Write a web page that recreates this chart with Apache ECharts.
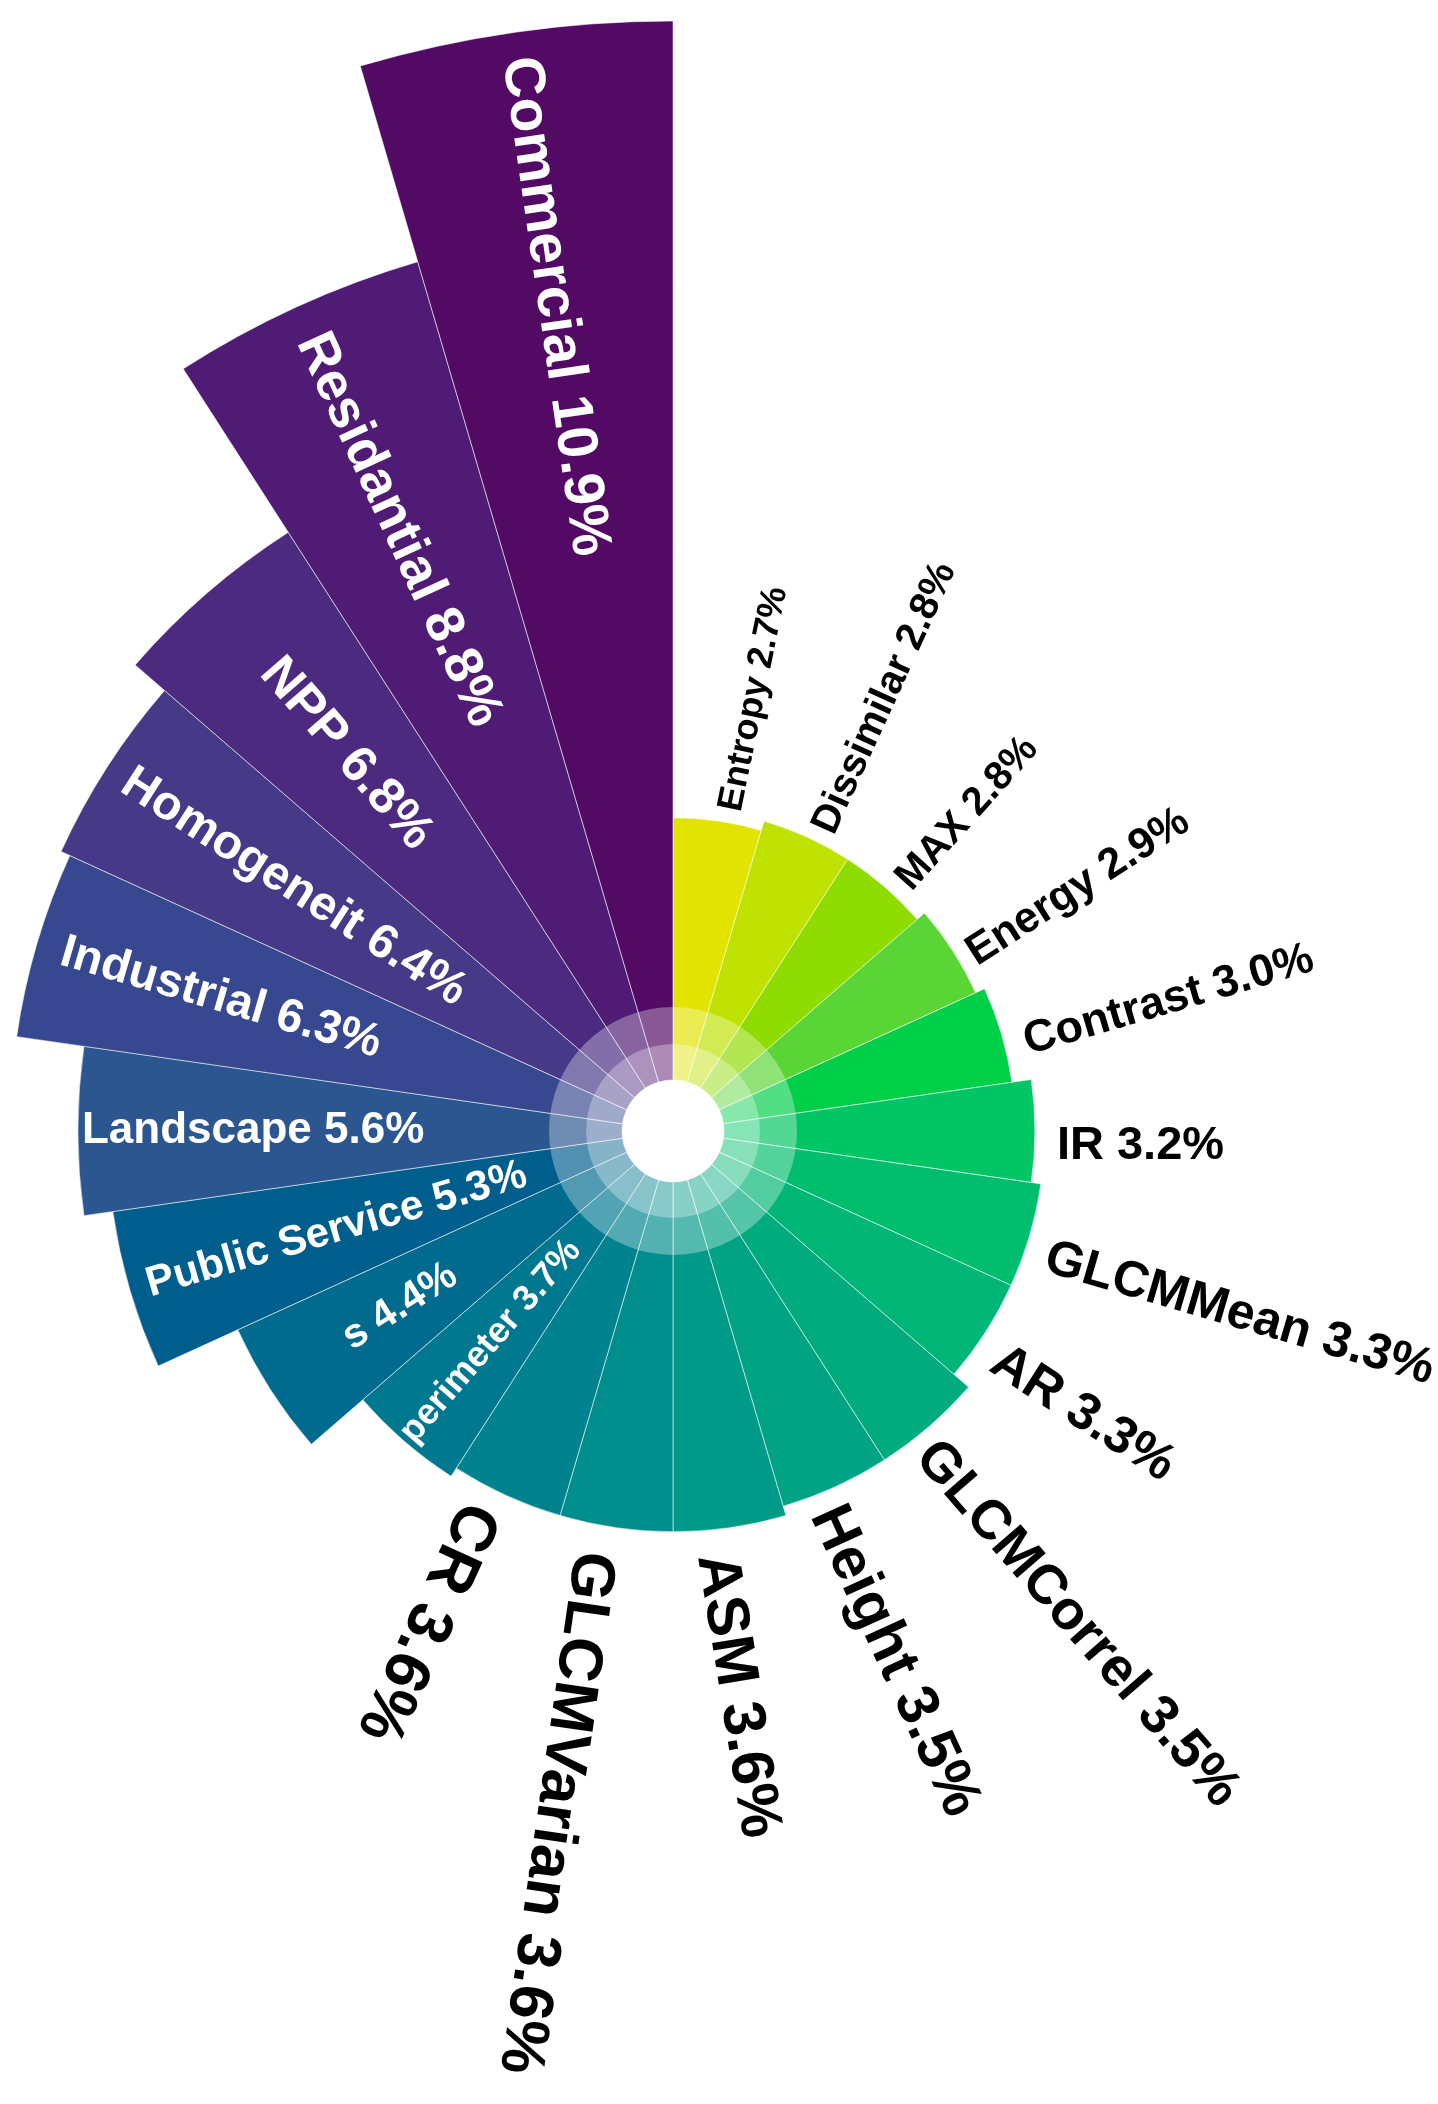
<!DOCTYPE html>
<html>
<head>
<meta charset="utf-8">
<script src="https://cdn.jsdelivr.net/npm/echarts@6/dist/echarts.min.js"></script>
<style>
html,body{margin:0;padding:0;background:#fff;}
#chart{width:1438px;height:2104px;}
</style>
</head>
<body>
<div id="chart"></div>
<script>
// ---- data (clockwise from 12 o'clock) ----
const categories = ['Entropy','Dissimilar','MAX','Energy','Contrast','IR','GLCMMean','AR','GLCMCorrel','Height','ASM','GLCMVarian','CR','perimeter','s','Public Service','Landscape','Industrial','Homogeneit','NPP','Residantial','Commercial'];
const values = [2.7,2.8,2.8,2.9,3.0,3.2,3.3,3.3,3.5,3.5,3.6,3.6,3.6,3.7,4.4,5.3,5.6,6.3,6.4,6.8,8.8,10.9];

// ---- styles ----
const colors = ['#e2e400','#bfe200','#8fdc00','#5ad536','#00cf48','#00c564','#00be6e','#00b676','#00ab7d','#00a383','#009a88','#008e8c','#00838f','#00788f','#006b8e','#005e8c','#2b5690','#384890','#463a88','#4b2a80','#4f1b74','#520a64'];
const labelFont = [36,40,40,43,45,47,50,52,55,59,60,62,64, 36,41,42,44,47,48,51,54,57];
const labelOffset = [12,12,14,12,20,22,22,22,14,16,24,27,20, 4,90,18,4,26,22,95,32,25];
const labelTiltDeg = [3.5,0,1,0,0,0,0,0,0,0,-1,0,0, 0,0,0,0,0,0,0,0,0]; // extra clockwise tilt
const perpShiftFactor = 0.32; // outside labels sit on the clockwise side of the radius
const insideThreshold = 3.7;

const CX = 673, CY = 1131, R0 = 51, R1 = 1110;

const chart = echarts.init(document.getElementById('chart'), null, {renderer:'canvas'});
const option = {
  backgroundColor: '#ffffff',
  animation: false,
  polar: { center: [CX, CY], radius: [R0, R1] },
  angleAxis: { type: 'category', data: categories, startAngle: 90, clockwise: true, show: false },
  radiusAxis: { type: 'value', min: 0, max: 10.9, show: false },
  series: [
    {
      type: 'bar',
      coordinateSystem: 'polar',
      barCategoryGap: '0%',
      silent: true,
      data: values.map((v, i) => ({ value: v, itemStyle: { color: colors[i] } })),
      itemStyle: { borderColor: 'rgba(255,255,255,0.55)', borderWidth: 1 },
      z: 1
    },
    {
      type: 'pie', silent: true, center: [CX, CY], radius: [50, 87],
      label: { show: false }, labelLine: { show: false },
      data: [{ value: 1, itemStyle: { color: 'rgba(255,255,255,0.53)' } }],
      z: 3
    },
    {
      type: 'pie', silent: true, center: [CX, CY], radius: [87, 124],
      label: { show: false }, labelLine: { show: false },
      data: [{ value: 1, itemStyle: { color: 'rgba(255,255,255,0.32)' } }],
      z: 3
    },
    {
      type: 'custom',
      coordinateSystem: 'polar',
      silent: true,
      z: 5,
      data: values.map((v, i) => [v, i]),
      renderItem: function (params, api) {
        const i = params.dataIndex;
        const v = api.value(0);
        const idx = api.value(1);
        const p0 = api.coord([0, idx]);
        const p1 = api.coord([v, idx]);
        let dx = p1[0] - p0[0], dy = p1[1] - p0[1];
        const len = Math.hypot(dx, dy); dx /= len; dy /= len;
        const inside = v >= insideThreshold;
        const off = labelOffset[i];
        const fs = labelFont[i];
        let ax, ay, rx, ry;
        if (inside) {
          ax = p1[0] - dx * off; ay = p1[1] - dy * off; rx = -dx; ry = -dy;
        } else {
          rx = dx; ry = dy;
          const s = perpShiftFactor * fs;
          ax = p1[0] + dx * off - ry * s;
          ay = p1[1] + dy * off + rx * s;
        }
        const rot = Math.atan2(-ry, rx) - labelTiltDeg[i] * Math.PI / 180;
        return {
          type: 'text',
          x: ax, y: ay, rotation: rot,
          style: {
            text: categories[i] + ' ' + values[i].toFixed(1) + '%',
            fill: inside ? '#ffffff' : '#000000',
            font: 'bold ' + fs + 'px "Liberation Sans", Arial, sans-serif',
            align: 'left',
            verticalAlign: 'middle'
          }
        };
      }
    }
  ]
};
chart.setOption(option);
</script>
</body>
</html>
